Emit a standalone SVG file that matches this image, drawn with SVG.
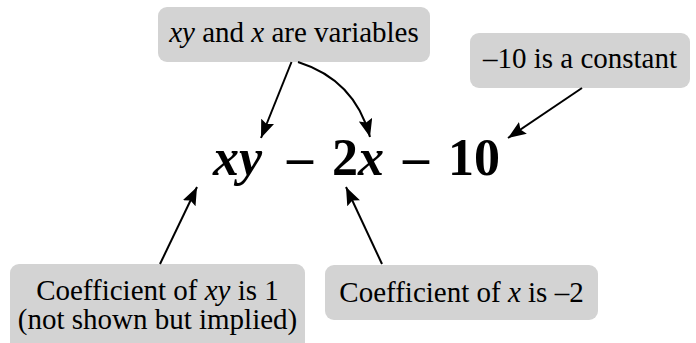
<svg xmlns="http://www.w3.org/2000/svg" width="696" height="343" viewBox="0 0 696 343">
<defs>
<style>
.box{fill:#d3d3d3;}
.conn{fill:none;stroke:#000;stroke-width:2;marker-end:url(#ah);}
</style>
<marker id="ah" markerUnits="userSpaceOnUse" markerWidth="20" markerHeight="14" refX="18" refY="7" orient="auto">
<path d="M0,0 L18,7 L0,14 L3,7 z" fill="#000"/>
</marker>
</defs>
<rect width="696" height="343" fill="#fff"/>
<g id="expression">
<text font-family="Liberation Serif" font-size="52" font-weight="bold" y="175"><tspan font-style="italic" x="213">xy</tspan><tspan x="287">–</tspan><tspan x="332">2</tspan><tspan font-style="italic" x="358">x</tspan><tspan x="403">–</tspan><tspan x="448">10</tspan></text>
</g>
<g id="variables">
<rect class="box" x="158" y="7" width="272" height="55" rx="9"/>
<text font-family="Liberation Serif" font-size="29" x="294" y="42" text-anchor="middle"><tspan font-style="italic">xy</tspan> and <tspan font-style="italic">x</tspan> are variables</text>
</g>
<g id="constant">
<rect class="box" x="470" y="33" width="220" height="55" rx="9"/>
<text font-family="Liberation Serif" font-size="29" x="580" y="68" text-anchor="middle">–10 is a constant</text>
</g>
<g id="coef-xy">
<rect class="box" x="10" y="264" width="295" height="95" rx="9"/>
<text font-family="Liberation Serif" font-size="29" x="157.5" y="300" text-anchor="middle">Coefficient of <tspan font-style="italic">xy</tspan> is 1</text>
<text font-family="Liberation Serif" font-size="29" x="157.5" y="329" text-anchor="middle">(not shown but implied)</text>
</g>
<g id="coef-x">
<rect class="box" x="325" y="265" width="273" height="55" rx="9"/>
<text font-family="Liberation Serif" font-size="29" x="461.5" y="302" text-anchor="middle">Coefficient of <tspan font-style="italic">x</tspan> is –2</text>
</g>
<g id="connectors">
<path class="conn" d="M291.5,62 L261,138"/>
<path class="conn" d="M298,62 Q355,80 370,137"/>
<path class="conn" d="M582,88 L508,138"/>
<path class="conn" d="M160,264 L197,187"/>
<path class="conn" d="M382,264 L346,187"/>
</g>
</svg>
